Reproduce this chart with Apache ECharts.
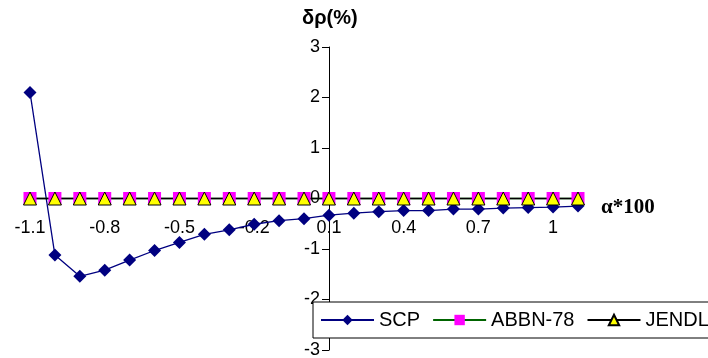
<!DOCTYPE html>
<html><head><meta charset="utf-8">
<script src="https://cdn.jsdelivr.net/npm/echarts@6/dist/echarts.min.js"></script>
<style>html,body{margin:0;padding:0;background:#fff}#c{width:708px;height:358px}</style>
</head><body><div id="c"></div>
<script>
const categories = ['-1.1','-1','-0.9','-0.8','-0.7','-0.6','-0.5','-0.4','-0.3','-0.2','-0.1','0','0.1','0.2','0.3','0.4','0.5','0.6','0.7','0.8','0.9','1','1.1'];
const scp = [2.10,-1.12,-1.54,-1.42,-1.22,-1.03,-0.87,-0.71,-0.62,-0.51,-0.44,-0.40,-0.33,-0.29,-0.26,-0.24,-0.24,-0.21,-0.21,-0.19,-0.18,-0.17,-0.15];
const abbn = [0,0,0,0,0,0,0,0,0,0,0,0,0,0,0,0,0,0,0,0,0,0,0];
const jendl = [0,0,0,0,0,0,0,0,0,0,0,0,0,0,0,0,0,0,0,0,0,0,0];
const yTicks = [-3,-2,-1,0,1,2,3];

const chart = echarts.init(document.getElementById('c'));
chart.setOption({
  animation:false,
  backgroundColor:'#fff',
  title:{text:'δρ(%)',left:302,top:8,padding:0,textStyle:{fontFamily:'Liberation Sans, Arial',fontWeight:'bold',fontSize:20,color:'#000'}},
  graphic:[{type:'text',left:601,top:197,style:{text:'α*100',fontFamily:'Liberation Serif, Times New Roman',fontWeight:'bold',fontSize:21,fill:'#000'}}],
  grid:{left:30,right:130,top:47,bottom:8,outerBoundsMode:'none',containLabel:false},
  legend:{
    left:313,top:302,width:700,orient:'horizontal',
    backgroundColor:'#fff',borderColor:'#000',borderWidth:1,
    padding:[8,6,8,7],itemGap:12,itemWidth:53,itemHeight:13,
    textStyle:{fontFamily:'Liberation Sans, Arial',fontSize:20,color:'#000'},
    data:['SCP','ABBN-78','JENDL']
  },
  xAxis:{
    type:'category',data:categories,boundaryGap:false,position:'bottom',offset:-151.5,
    axisLine:{onZero:false,lineStyle:{color:'#000',width:1}},
    axisTick:{show:false},
    axisLabel:{interval:2,fontFamily:'Liberation Sans, Arial',fontSize:18,color:'#000',margin:21},
    splitLine:{show:false}
  },
  yAxis:{
    type:'value',min:-3,max:3,interval:1,position:'left',offset:-299,
    axisLine:{show:true,onZero:false,lineStyle:{color:'#000',width:1}},
    axisTick:{show:true,length:7,lineStyle:{color:'#000'}},
    axisLabel:{fontFamily:'Liberation Sans, Arial',fontSize:18,color:'#000',margin:9},
    splitLine:{show:false}
  },
  series:[
    {name:'SCP',type:'line',data:scp,symbol:'diamond',symbolSize:13,
     lineStyle:{color:'#000080',width:1.3},itemStyle:{color:'#000080'}},
    {name:'ABBN-78',type:'line',data:abbn,symbol:'rect',symbolSize:13,
     lineStyle:{color:'#006400',width:1.3},itemStyle:{color:'#ff00ff'}},
    {name:'JENDL',type:'line',data:jendl,symbol:'triangle',symbolSize:13,
     lineStyle:{color:'#000',width:1.3},itemStyle:{color:'#ffff00',borderColor:'#000',borderWidth:1}}
  ]
});
</script></body></html>
